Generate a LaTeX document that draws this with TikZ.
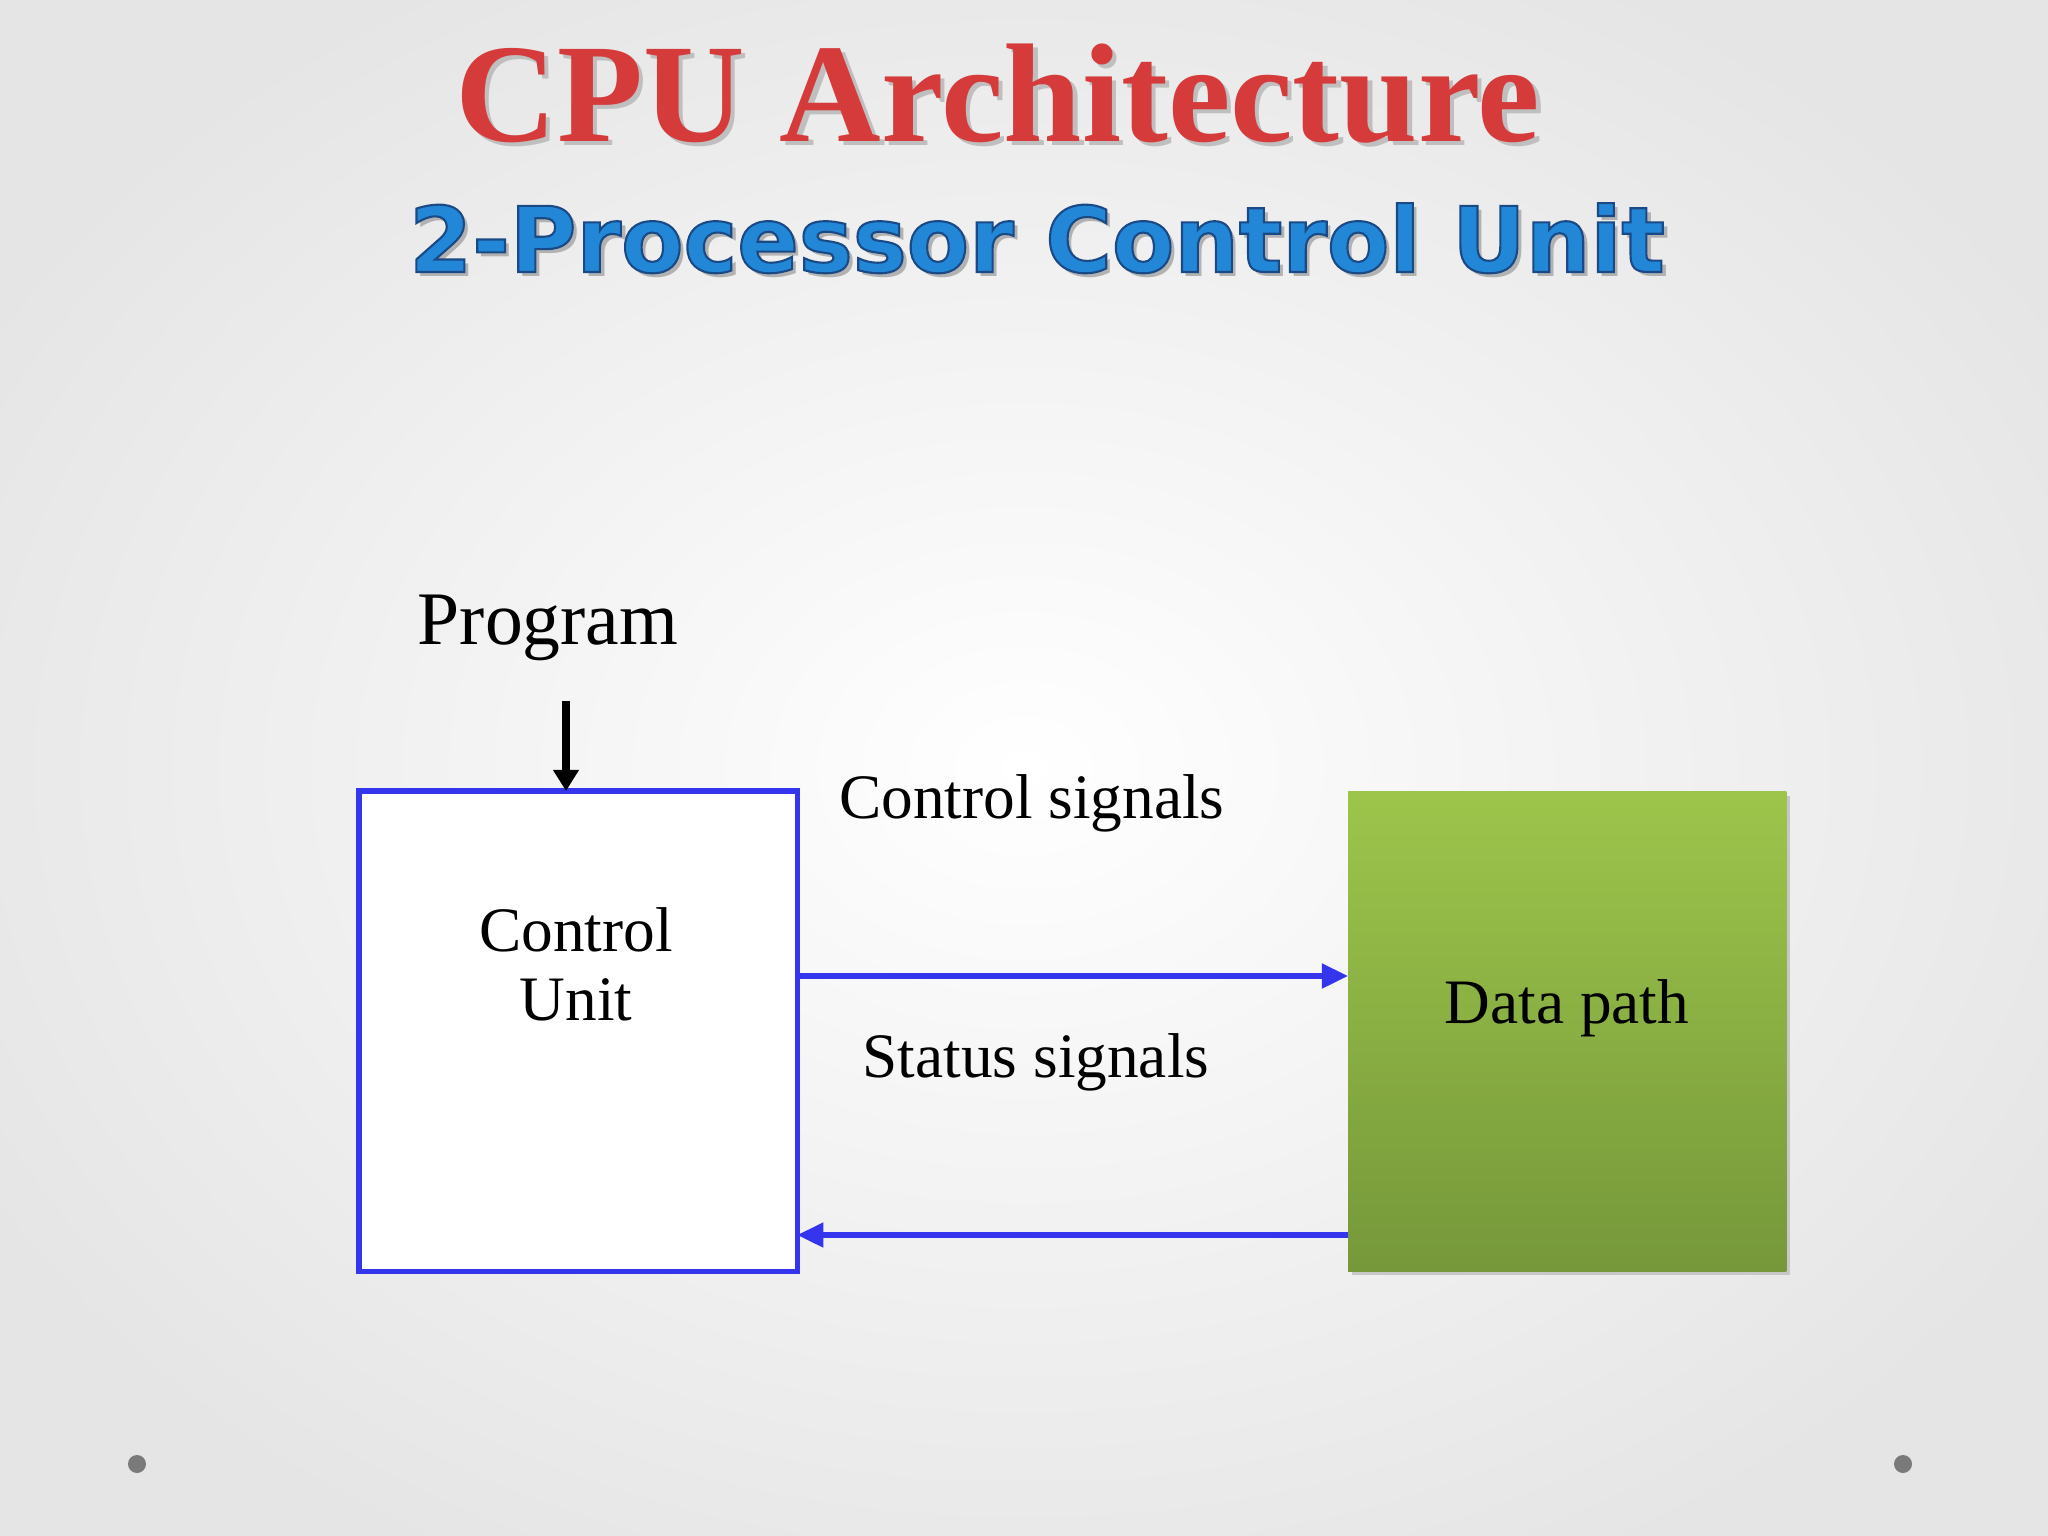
\documentclass[tikz,border=0pt]{standalone}
\usepackage{fontspec}
\setmainfont{Liberation Serif}
\newfontfamily\subfont{DejaVu Sans}
\usetikzlibrary{arrows.meta,calc}
\definecolor{cublue}{HTML}{3535EE}
\definecolor{titlered}{HTML}{D63B3B}
\definecolor{subblue}{HTML}{2387D8}
\definecolor{subdark}{HTML}{1A4A86}
\definecolor{gtop}{HTML}{9DC54B}
\definecolor{gbot}{HTML}{76983A}
\definecolor{dotgray}{HTML}{7A7A7A}
\newcommand{\subtxtstr}{2-Processor Control Unit}
\tikzset{
  bodytext/.style={font=\fontsize{18}{19.6}\selectfont, inner sep=0pt, text=black},
  bluearrow/.style={draw=cublue, line width=1.45pt, -{Triangle[length=7.4pt,width=6.8pt]}},
  blackarrow/.style={draw=black, line width=2pt, -{Triangle[length=6pt,width=7pt]}},
  boxnode/.style={minimum width=4.38cm, minimum height=4.8cm, inner sep=0pt, outer sep=0pt, anchor=north west},
}
\begin{document}
\begin{tikzpicture}[x=0.01cm,y=-0.01cm]
\useasboundingbox (0,0) rectangle (2048,1536);
\shade[inner color=white, outer color=black!10] (-150,-120) rectangle (2198,1656);
% title
\node[font=\bfseries\fontsize{40}{40}\selectfont, inner sep=0pt, anchor=base] (title) at (998,141)
  {\rlap{\hspace*{1.2pt}\raisebox{-1.4pt}{\textcolor{black!25}{CPU Architecture}}}\textcolor{titlered}{CPU Architecture}};
% subtitle
\node[font=\subfont\bfseries\fontsize{25.8}{26}\selectfont, inner sep=0pt, anchor=base] (subtitle) at (1037,272)
  {\rlap{\hspace*{1.3pt}\raisebox{-1.3pt}{\textcolor{black!30}{\subtxtstr}}}{\color{subblue}\special{pdf:literal direct 0.102 0.29 0.525 RG 2 Tr 0.6 w}\subtxtstr\special{pdf:literal direct 0 Tr}}};
% boxes
\node[boxnode, draw=cublue, line width=1.45pt, fill=white] (cu) at (359,791) {};
\fill[black!22] (1352,796) rectangle (1790,1275);
\node[boxnode, top color=gtop, bottom color=gbot, draw=none] (dp) at (1348,791) {};
% texts
\node[bodytext, font=\fontsize{21.5}{22}\selectfont, anchor=base] (prog) at (548,644) {Program};
\node[bodytext, anchor=base] (cut1) at (576,951) {Control};
\node[bodytext, anchor=base] (cut2) at (576,1020) {Unit};
\node[bodytext, anchor=base] (dpt) at (1567,1023) {Data path};
\node[bodytext, anchor=base] (cs) at (1032,818) {Control signals};
\node[bodytext, anchor=base] (ss) at (1036,1077) {Status signals};
% connectors
\coordinate (pin) at (566,701);
\draw[blackarrow] (pin) -- (pin |- cu.north);
\coordinate (ctl) at (797,976);
\draw[bluearrow] (ctl) -- (ctl -| dp.west);
\coordinate (sts) at (1348,1235);
\draw[bluearrow] (sts) -- (sts -| cu.east);
% dots
\fill[dotgray] (137,1464) circle (9);
\fill[dotgray] (1903,1464) circle (9);
\end{tikzpicture}
\end{document}
